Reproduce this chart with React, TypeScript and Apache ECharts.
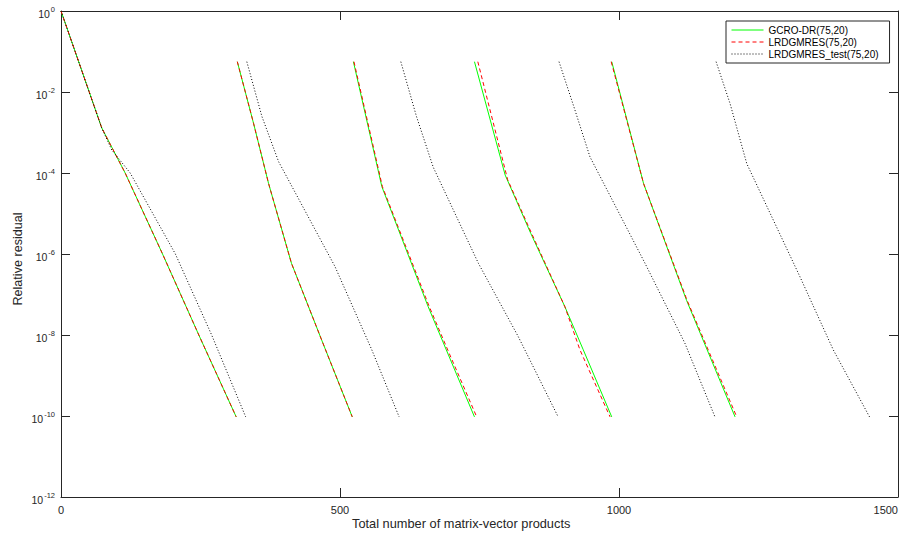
import React, { useEffect, useRef } from "react";
import * as echarts from "echarts";

const FONT = '"Liberation Sans", Arial, Helvetica, sans-serif';
const AX = "#262626";

const legendNames = ["GCRO-DR(75,20)", "LRDGMRES(75,20)", "LRDGMRES_test(75,20)"];
const xTicks = [0, 500, 1000, 1500];

// GCRO-DR(75,20): one array per restart cycle
const gcroX = [
  [0, 73, 115, 182, 247, 314],
  [316, 345, 372, 413, 467, 522],
  [524, 575, 658, 741],
  [741, 796, 842, 903, 936, 987],
  [987, 1044, 1121, 1208],
];
const gcroY = [
  [1, 1.3e-3, 1e-4, 1e-6, 1e-8, 9.5e-11],
  [5.6e-2, 1.7e-3, 5.5e-5, 5.9e-7, 7.6e-9, 9.5e-11],
  [5.6e-2, 4.6e-5, 5.0e-8, 9.5e-11],
  [5.6e-2, 8.9e-5, 3.2e-6, 5.0e-8, 4.3e-9, 9.5e-11],
  [5.6e-2, 5.5e-5, 7.2e-8, 9.5e-11],
];

// LRDGMRES(75,20)
const lrdX = [
  [0, 73, 115, 182, 247, 314],
  [316, 345, 372, 413, 467, 522],
  [525, 576, 660, 697, 745],
  [747, 800.5, 843.5, 903, 930, 984],
  [986, 1044, 1122, 1211],
];
const lrdY = [
  [1, 1.3e-3, 1e-4, 1e-6, 1e-8, 9.5e-11],
  [5.6e-2, 1.7e-3, 5.5e-5, 5.9e-7, 7.6e-9, 9.5e-11],
  [5.6e-2, 4.6e-5, 5.0e-8, 3.2e-9, 9.5e-11],
  [5.6e-2, 6.8e-5, 3.2e-6, 5.0e-8, 4.3e-9, 9.5e-11],
  [5.6e-2, 5.5e-5, 7.2e-8, 9.5e-11],
];

// LRDGMRES_test(75,20)
const testX = [
  [0, 73, 91, 124, 205, 270, 331],
  [333, 360, 390, 491, 557, 606],
  [609, 637, 667, 748, 819.5, 891],
  [892.5, 921, 948, 1046.6, 1118, 1172],
  [1174, 1199, 1229, 1324, 1384, 1449],
];
const testY = [
  [1, 1.3e-3, 3.7e-4, 1e-4, 1e-6, 1e-8, 9.5e-11],
  [5.6e-2, 2.5e-3, 1.9e-4, 4.9e-7, 4.3e-9, 9.5e-11],
  [5.6e-2, 2.5e-3, 1.4e-4, 5.9e-7, 9.1e-9, 9.5e-11],
  [5.6e-2, 3.6e-3, 2.5e-4, 5.9e-7, 6.3e-9, 9.5e-11],
  [5.6e-2, 5.2e-3, 1.7e-4, 2.8e-7, 4.3e-9, 9.5e-11],
];

function buildSeries(name: string, xs: number[][], ys: number[][], lineStyle: any, z: number) {
  return xs.map((xr, k) => ({
    type: "line",
    name,
    data: xr.map((x, i) => [x, ys[k][i]]),
    symbol: "none",
    showSymbol: false,
    lineStyle,
    itemStyle: { color: lineStyle.color, opacity: 0 },
    z,
    silent: true,
    animation: false,
  }));
}

export default function App() {
  const ref = useRef<HTMLDivElement>(null);
  useEffect(() => {
    if (!ref.current) return;
    const chart = echarts.init(ref.current, undefined, { renderer: "svg", width: 906, height: 535 });
    const tickStyle = { show: true, inside: true, length: 9, lineStyle: { color: AX, width: 1 } };
    const lineAx = { show: true, onZero: false, lineStyle: { color: AX, width: 1 } };
    const yFmt = (v: number) => {
      const e = Math.round(Math.log10(v));
      return `{b|10}{s|${e}}`;
    };
    const option: any = {
      animation: false,
      backgroundColor: "#ffffff",
      textStyle: { fontFamily: FONT },
      grid: { left: 61, top: 11, width: 837, height: 486, containLabel: false, outerBoundsMode: "none" },
      xAxis: [
        {
          type: "value",
          min: 0,
          max: 1500,
          interval: 500,
          position: "bottom",
          axisLine: lineAx,
          axisTick: tickStyle,
          splitLine: { show: false },
          axisLabel: {
            color: AX,
            fontSize: 11,
            fontFamily: FONT,
            margin: 7,
            alignMaxLabel: "right",
            formatter: (v: number) => (xTicks.includes(v) ? String(v) : ""),
          },
        },
        {
          type: "value",
          min: 0,
          max: 1500,
          interval: 500,
          position: "top",
          axisLine: lineAx,
          axisTick: tickStyle,
          splitLine: { show: false },
          axisLabel: { show: false },
        },
      ],
      yAxis: [
        {
          type: "log",
          logBase: 10,
          min: 1e-12,
          max: 1,
          interval: 2,
          position: "left",
          axisLine: lineAx,
          axisTick: tickStyle,
          minorTick: { show: false },
          splitLine: { show: false },
          axisLabel: {
            color: AX,
            margin: 6,
            formatter: yFmt,
            rich: {
              b: { fontSize: 10.5, fontFamily: FONT, color: AX, padding: [5, 0, 0, 0] },
              s: { fontSize: 7.5, fontFamily: FONT, color: AX, padding: [0, 0, 4, 1] },
            },
          },
        },
        {
          type: "log",
          logBase: 10,
          min: 1e-12,
          max: 1,
          interval: 2,
          position: "right",
          axisLine: lineAx,
          axisTick: tickStyle,
          splitLine: { show: false },
          axisLabel: { show: false },
        },
      ],
      legend: {
        show: true,
        data: legendNames,
        orient: "vertical",
        left: 726,
        top: 21,
        itemWidth: 32,
        itemHeight: 8,
        itemGap: 0,
        padding: [3, 11, 3, 5],
        borderColor: AX,
        borderWidth: 1,
        backgroundColor: "#ffffff",
        itemStyle: { opacity: 0 },
        lineStyle: { width: 1 },
        textStyle: { fontSize: 10, fontFamily: FONT, color: "#000", lineHeight: 12 },
        selectedMode: false,
      },
      graphic: [
        {
          type: "text",
          left: 462 - 110,
          top: 517,
          style: { text: "Total number of matrix-vector products", font: `12.8px ${FONT}`, fill: AX },
        },
        {
          type: "text",
          x: 18,
          y: 259,
          rotation: Math.PI / 2,
          style: {
            text: "Relative residual",
            font: `12.6px ${FONT}`,
            fill: AX,
            align: "center",
            verticalAlign: "middle",
          },
        },
      ],
      series: [
        ...buildSeries(legendNames[0], gcroX, gcroY, { color: "#00ff00", width: 1, type: "solid" }, 2),
        ...buildSeries(legendNames[1], lrdX, lrdY, { color: "#ff0000", width: 1, type: [4, 3] }, 3),
        ...buildSeries(legendNames[2], testX, testY, { color: "#000000", width: 1, type: [1, 2] }, 4),
      ],
    };
    chart.setOption(option);
    return () => chart.dispose();
  }, []);
  return (
    <div
      ref={ref}
      style={{ position: "absolute", left: 0, top: 0, width: 906, height: 535, background: "#fff" }}
    />
  );
}
